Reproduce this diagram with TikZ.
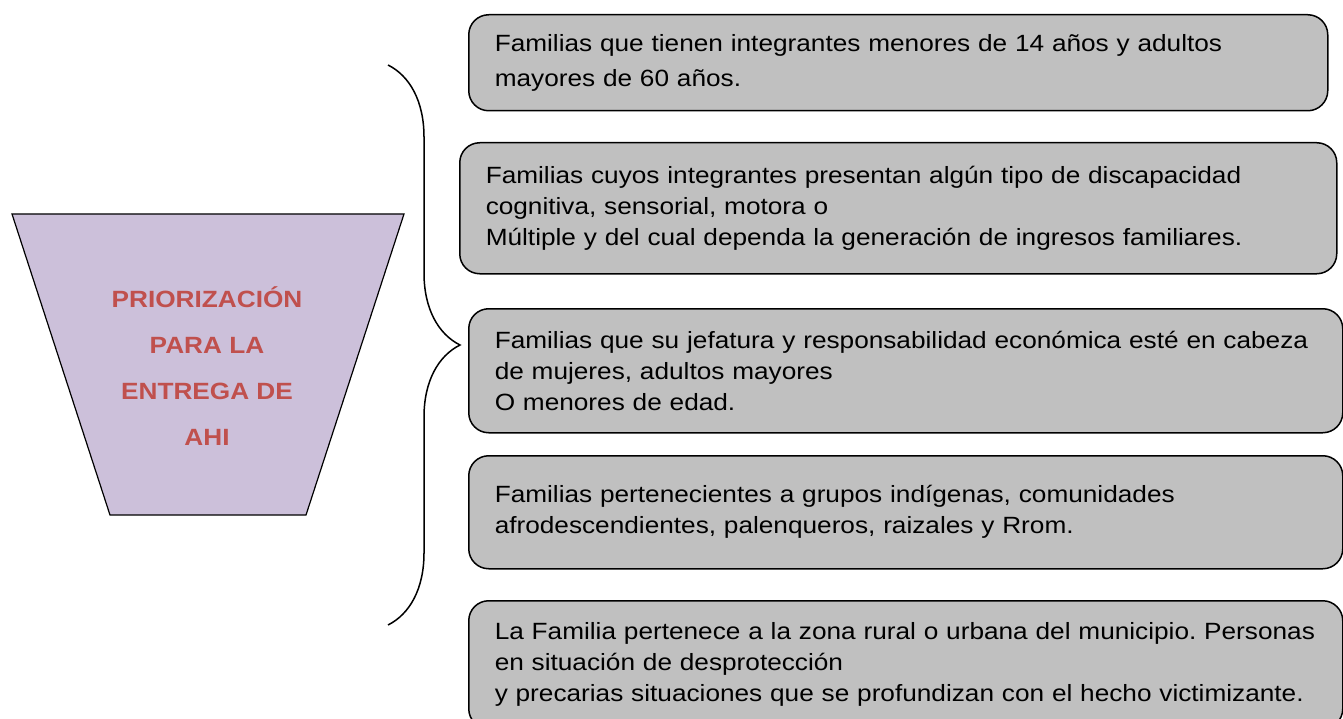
\documentclass[tikz,border=0pt]{standalone}
\usepackage{fontspec}
\setmainfont{Liberation Sans}[FakeStretch=1.115]
\usepackage{tikz}
\usetikzlibrary{decorations.pathreplacing}
\frenchspacing
\definecolor{prioRed}{HTML}{C0504D}
\definecolor{prioLilac}{HTML}{CCC0DA}
\definecolor{boxGray}{HTML}{C0C0C0}
\tikzset{crit node/.style={draw,fill=boxGray,rounded corners=20pt,line width=1.5pt,anchor=north west,align=left,inner xsep=26pt,inner ysep=0pt,font=\fontsize{23.5}{31}\selectfont},
         title node/.style={align=center,text=prioRed,font=\fontsize{23.5}{46}\selectfont\bfseries},
            }

\begin{document}
\begin{tikzpicture}[x=1pt,y=-1pt]
    \useasboundingbox (0,0) rectangle (1343,719);

    % funnel
    \draw[fill=prioLilac,line width=1.2pt] (12,214) -- (404,214) -- (306,515) -- (110,515) -- cycle;
    \node[title node] (prio) at (207,366) {PRIORIZACIÓN\\PARA LA\\ENTREGA DE\\AHI};

    % brace
    \draw[line width=1.5pt,decorate,decoration={brace,amplitude=72pt}] (388,65) -- (388,625);

    % criteria
    \node[crit node,text width=807pt,minimum height=96pt,font=\fontsize{23.5}{35}\selectfont] (crit1) at (468,14)
        {Familias que tienen integrantes menores de 14 años y adultos\\mayores de 60 años.};
    \node[crit node,text width=825pt,minimum height=131pt] (crit2) at (459,142)
        {Familias cuyos integrantes presentan algún tipo de discapacidad\\cognitiva, sensorial, motora o\\Múltiple y del cual dependa la generación de ingresos familiares.};
    \node[crit node,text width=822pt,minimum height=124pt] (crit3) at (468,308)
        {Familias que su jefatura y responsabilidad económica esté en cabeza\\de mujeres, adultos mayores\\O menores de edad.};
    \node[crit node,text width=822pt,minimum height=113pt] (crit4) at (468,455)
        {Familias pertenecientes a grupos indígenas, comunidades\\afrodescendientes, palenqueros, raizales y Rrom.};
    \node[crit node,text width=822pt,minimum height=128pt] (crit5) at (468,600)
        {La Familia pertenece a la zona rural o urbana del municipio. Personas\\en situación de desprotección\\y precarias situaciones que se profundizan con el hecho victimizante.};

\end{tikzpicture}
\end{document}
